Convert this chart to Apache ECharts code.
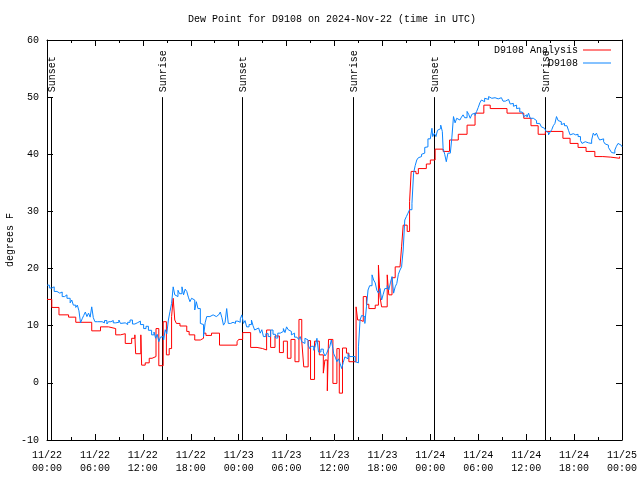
<!DOCTYPE html>
<html><head><meta charset="utf-8">
<script src="https://cdn.jsdelivr.net/npm/echarts@6/dist/echarts.min.js"></script>
<style>html,body{margin:0;padding:0;background:#fff}#c{width:640px;height:480px}</style>
</head><body><div id="c"></div>
<script>
const chartTitle = 'Dew Point for D9108 on 2024-Nov-22 (time in UTC)';
const yAxisName = 'degrees F';
const seriesNames = ['D9108 Analysis', 'D9108'];
const xTickLabels = ['11/22\n00:00','11/22\n06:00','11/22\n12:00','11/22\n18:00','11/23\n00:00','11/23\n06:00','11/23\n12:00','11/23\n18:00','11/24\n00:00','11/24\n06:00','11/24\n12:00','11/24\n18:00','11/25\n00:00'];
const sunEventHours = [0.54, 14.45, 24.45, 38.35, 48.5, 62.35];
const sunEventNames = ['Sunset','Sunrise','Sunset','Sunrise','Sunset','Sunrise'];

// hours since 11/22 00:00 UTC
const redHours = [0.0,0.6,1.5,2.7,3.6,5.6,6.7,7.7,8.6,9.2,9.8,10.6,11.0,11.1,11.75,11.85,12.3,12.8,13.15,13.65,14.0,14.55,14.95,15.3,15.6,15.8,16.0,16.2,16.65,17.5,17.8,18.5,19.2,19.6,19.9,20.6,21.6,23.8,24.0,24.5,25.5,26.3,27.0,27.5,28.0,28.55,29.1,29.6,30.1,30.55,31.05,31.55,31.9,32.15,32.7,33.0,33.5,34.1,34.6,34.8,35.1,35.25,35.8,36.3,36.6,37.0,37.5,37.8,38.7,38.9,39.2,39.6,40.0,40.3,41.1,41.5,41.7,41.9,42.6,42.8,43.2,43.6,44.2,44.4,44.6,45.1,45.4,45.6,46.2,46.5,47.5,48.0,48.6,49.6,50.4,51.5,52.6,53.6,54.7,55.5,57.6,59.7,60.6,61.5,62.4,64.6,65.5,66.5,67.5,68.6,69.6,70.6,71.7];
const redValues = [14.6,13.2,11.9,11.5,10.6,9.1,9.8,9.5,8.4,8.6,6.9,7.8,8.4,5.1,8.4,3.1,3.5,4.3,4.6,9.5,3.0,10.7,4.9,6.0,11.6,14.8,11.0,10.4,9.95,9.0,8.4,7.5,7.8,8.7,8.3,8.7,6.6,7.2,7.6,8.8,6.2,6.0,5.75,9.25,6.2,8.2,5.3,7.3,4.3,7.6,3.7,11.1,7.3,2.8,7.4,0.6,7.3,4.9,1.7,4.0,-1.4,7.6,-0.1,6.0,-1.8,6.1,5.2,3.7,13.3,11.0,10.75,15.1,13.75,13.0,13.6,20.6,15.0,13.3,18.9,15.4,18.4,20.3,20.0,23.8,27.6,26.5,31.7,37.0,36.6,37.5,38.3,39.0,40.9,40.5,42.5,43.5,45.1,47.2,48.6,48.0,47.2,46.3,45.0,43.5,44.0,42.8,41.9,41.2,40.5,39.6,39.5,39.3,39.6];

const blueHours = [0.0,0.3,0.6,0.9,1.25,1.6,1.9,2.2,2.5,2.9,3.1,3.3,3.6,3.8,4.0,4.2,4.4,4.6,4.8,5.0,5.2,5.4,5.6,5.8,6.0,6.3,6.5,6.9,7.2,7.5,7.7,8.0,8.3,8.6,9.0,9.2,9.4,9.8,10.1,10.4,10.7,11.0,11.3,11.7,12.1,12.4,12.7,13.1,13.4,13.6,13.8,14.0,14.2,14.4,14.6,14.8,15.0,15.2,15.4,15.6,15.8,16.0,16.2,16.4,16.6,16.9,17.1,17.3,17.5,17.7,17.9,18.1,18.3,18.5,18.7,18.9,19.2,19.4,19.6,19.8,20.0,20.4,20.8,21.2,21.5,21.7,21.9,22.1,22.3,22.5,22.7,23.0,23.3,23.6,23.9,24.2,24.4,24.6,24.8,25.0,25.3,25.6,25.8,26.0,26.2,26.5,26.7,26.9,27.1,27.4,27.7,28.0,28.3,28.6,28.9,29.2,29.4,29.6,29.8,30.0,30.2,30.4,30.6,30.8,31.0,31.3,31.5,31.7,31.9,32.1,32.3,32.5,32.7,32.9,33.1,33.4,33.6,33.8,34.0,34.3,34.6,34.8,35.0,35.2,35.4,35.6,35.8,35.9,36.1,36.3,36.5,36.7,36.9,37.1,37.3,37.5,37.7,37.9,38.2,38.4,38.6,38.8,39.0,39.2,39.4,39.6,39.8,40.0,40.2,40.4,40.7,40.9,41.1,41.3,41.5,41.7,41.9,42.1,42.3,42.6,42.8,43.0,43.2,43.4,43.6,43.8,44.0,44.2,44.4,44.6,44.8,45.0,45.2,45.4,45.7,45.9,46.1,46.3,46.5,46.7,46.9,47.1,47.3,47.5,47.7,48.0,48.2,48.3,48.5,48.7,48.9,49.1,49.3,49.5,49.6,49.8,50.0,50.2,50.5,50.7,50.9,51.1,51.3,51.5,51.7,51.9,52.1,52.3,52.6,52.8,53.0,53.2,53.4,53.6,53.8,54.0,54.2,54.4,54.6,54.8,55.0,55.3,55.5,55.7,55.9,56.1,56.3,56.5,56.7,56.9,57.1,57.4,57.6,57.8,58.0,58.2,58.4,58.6,58.8,59.0,59.2,59.5,59.7,59.9,60.1,60.3,60.5,60.7,60.9,61.1,61.3,61.5,61.7,61.9,62.1,62.3,62.5,62.7,62.8,63.0,63.2,63.4,63.6,63.8,64.0,64.2,64.4,64.6,64.8,65.1,65.3,65.5,65.7,65.9,66.2,66.5,66.8,67.0,67.2,67.4,67.6,67.8,68.0,68.2,68.4,68.6,68.8,69.0,69.2,69.4,69.7,69.9,70.1,70.3,70.5,70.7,70.9,71.1,71.3,71.5,71.7,71.9,72.0];
const blueValues = [17.1,16.6,16.8,16.0,15.7,15.9,15.1,15.4,14.8,14.0,14.5,13.6,13.2,13.6,12.6,10.5,11.2,11.8,12.4,11.6,12.2,11.5,13.3,11.4,10.7,11.0,10.7,10.5,10.9,10.3,10.7,10.9,10.5,10.6,11.0,10.4,10.5,10.2,10.6,11.0,10.3,10.5,10.8,10.2,9.5,9.9,9.2,8.4,8.9,7.8,8.5,7.2,8.0,8.1,7.5,9.3,8.6,11.0,12.5,13.9,16.8,15.4,15.1,16.2,15.6,16.8,15.4,16.4,16.0,15.0,14.2,14.8,14.5,12.75,14.2,13.0,10.4,10.2,8.1,10.5,11.6,11.9,11.6,11.9,11.7,12.4,11.4,10.1,10.6,13.0,10.4,10.6,10.4,10.8,10.6,11.2,11.9,10.4,10.9,9.8,10.2,11.0,10.0,9.25,9.6,9.8,8.7,9.3,8.1,8.6,8.1,9.25,8.5,7.85,8.7,8.4,9.0,9.5,8.8,9.8,9.3,9.0,8.4,8.7,8.0,8.1,7.6,8.1,7.2,6.9,7.8,7.5,6.6,6.0,6.4,5.7,6.5,7.8,5.4,5.9,5.4,4.7,5.1,5.8,6.3,7.5,6.0,5.1,4.5,3.7,4.2,3.4,2.5,3.6,4.55,4.2,5.1,4.6,4.3,4.6,3.7,3.5,6.3,11.0,11.8,11.6,10.4,13.3,16.25,17.0,18.9,18.0,17.5,16.2,15.7,16.5,14.5,15.5,16.5,17.0,16.25,17.5,18.6,15.7,16.8,17.4,19.0,19.75,20.3,23.25,28.5,29.1,29.7,30.3,31.4,36.7,38.0,39.0,39.4,39.6,40.0,40.2,41.2,41.3,42.7,42.5,44.55,43.1,43.7,43.1,44.2,44.5,45.1,44.0,41.0,40.0,38.7,40.2,40.5,43.0,46.6,45.5,46.3,46.0,45.7,46.5,46.9,46.4,47.5,47.0,46.3,47.0,47.2,46.8,47.5,48.2,49.0,49.5,49.2,49.8,49.6,50.1,49.8,49.5,49.9,50.1,49.7,49.5,49.9,49.8,49.3,49.2,49.6,49.5,48.8,48.9,48.4,48.6,48.0,48.1,47.4,47.5,46.6,46.9,46.5,47.2,46.3,46.3,46.0,45.9,45.4,45.4,45.1,44.8,44.55,44.2,44.0,43.8,43.4,43.9,44.3,45.0,45.4,46.6,45.9,45.7,45.2,45.4,45.0,44.8,44.2,43.4,43.6,43.4,43.5,43.1,42.4,41.9,42.2,41.9,42.0,42.2,41.9,42.5,43.7,43.3,43.7,43.0,42.5,42.7,42.2,41.8,41.6,41.2,40.75,40.3,40.2,40.75,41.4,41.9,41.6,41.9,41.3];

const FONT = '"Liberation Mono", "DejaVu Sans Mono", monospace';
const zip = (a, b) => a.map((v, i) => [v, b[i]]);

const chart = echarts.init(document.getElementById('c'), null, {renderer: 'canvas'});
const axisCommon = {
  axisLine: {show: true, onZero: false, lineStyle: {color: '#000', width: 1}},
  axisTick: {show: true, inside: true, length: 6, lineStyle: {color: '#000'}},
  splitLine: {show: false}
};
chart.setOption({
  animation: false,
  backgroundColor: '#fff',
  title: {text: chartTitle, left: 183, top: 9, textStyle: {fontFamily: FONT, fontSize: 10, fontWeight: 'normal', color: '#000'}},
  legend: {
    data: seriesNames, orient: 'vertical', right: 24, top: 39, align: 'right',
    icon: 'rect', itemWidth: 28, itemHeight: 1, itemGap: 1,
    textStyle: {fontFamily: FONT, fontSize: 10, color: '#000', lineHeight: 12}
  },
  grid: {left: 47, right: 18, top: 40, bottom: 40, containLabel: false, outerBoundsMode: 'none'},
  xAxis: [
    Object.assign({type: 'value', min: 0, max: 72, interval: 6, position: 'bottom',
      minorTick: {show: true, splitNumber: 2, length: 3, lineStyle: {color: '#000'}},
      axisLabel: {formatter: v => xTickLabels[Math.round(v / 6)], fontFamily: FONT, fontSize: 10, color: '#000', lineHeight: 13, margin: 9}
    }, axisCommon),
    Object.assign({type: 'value', min: 0, max: 72, interval: 6, position: 'top',
      minorTick: {show: true, splitNumber: 2, length: 3, lineStyle: {color: '#000'}},
      axisLabel: {show: false}
    }, axisCommon)
  ],
  yAxis: [
    Object.assign({type: 'value', min: -10, max: 60, interval: 10, position: 'left',
      name: yAxisName, nameLocation: 'middle', nameGap: 32, nameRotate: 90, nameMoveOverlap: false,
      nameTextStyle: {fontFamily: FONT, fontSize: 10, color: '#000'},
      axisLabel: {fontFamily: FONT, fontSize: 10, color: '#000', margin: 8}
    }, axisCommon),
    Object.assign({type: 'value', min: -10, max: 60, interval: 10, position: 'right',
      axisLabel: {show: false}
    }, axisCommon)
  ],
  series: [
    {
      type: 'custom', name: 'sun', silent: true, xAxisIndex: 0, yAxisIndex: 0, z: 1,
      data: sunEventHours.map((h, i) => [h, i]),
      renderItem: (params, api) => {
        const h = api.value(0);
        const p0 = api.coord([h, -10]);
        const p1 = api.coord([h, 50]);
        const x = Math.round(p0[0]) + 0.5;
        return {type: 'group', children: [
          {type: 'line', shape: {x1: x, y1: p0[1], x2: x, y2: p1[1]}, style: {stroke: '#000', lineWidth: 1}},
          {type: 'text', x: x + 1, y: p1[1] - 5, rotation: Math.PI / 2,
            style: {text: sunEventNames[api.value(1)], font: '10px ' + FONT, fill: '#000', textAlign: 'left', textVerticalAlign: 'middle'}}
        ]};
      }
    },
    {
      type: 'line', name: seriesNames[0], data: zip(redHours, redValues), step: 'end',
      symbol: 'none', z: 2, lineStyle: {color: '#ff0000', width: 1}, itemStyle: {color: '#ff0000'}
    },
    {
      type: 'line', name: seriesNames[1], data: zip(blueHours, blueValues), step: 'end',
      symbol: 'none', z: 3, lineStyle: {color: '#0a84ff', width: 1}, itemStyle: {color: '#0a84ff'}
    }
  ]
});
</script>
</body></html>
